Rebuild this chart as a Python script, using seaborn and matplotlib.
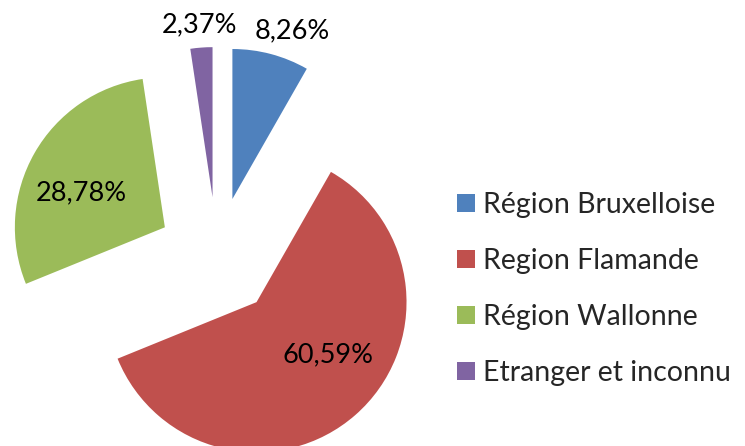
import numpy as np
import matplotlib
matplotlib.use("Agg")
import matplotlib.pyplot as plt
import seaborn as sns

# data
regions = ["Région Bruxelloise", "Region Flamande", "Région Wallonne", "Etranger et inconnu"]
shares = [8.26, 60.59, 28.78, 2.37]
colors = ["#4F81BD", "#C0504D", "#9BBB59", "#8064A2"]

sns.set_theme(style="white")
plt.rcParams["font.family"] = ["Lato", "DejaVu Sans"]

W, H = 745, 446
fig = plt.figure(figsize=(W / 100, H / 100), dpi=100)
ax = fig.add_axes([0, 0, 1, 1])

# pie geometry (pixels): centre and radius
cx, cy, r_px = 217, 257, 150
explode = 0.4

wedges, _ = ax.pie(shares, colors=colors, startangle=90, counterclock=False,
                   explode=[explode] * len(shares), radius=1,
                   wedgeprops=dict(linewidth=0))

ax.set_xlim(-cx / r_px, (W - cx) / r_px)
ax.set_ylim(-(H - cy) / r_px, cy / r_px)
ax.set_aspect("auto")
ax.axis("off")

# percentage labels, distance from pie centre per slice
label_dist = [1.59, 0.99, 1.0, 1.55]
angle_shift = [-3.5, 7.4, 4.3, 0]
for w, val, d, sh in zip(wedges, shares, label_dist, angle_shift):
    mid = np.deg2rad((w.theta1 + w.theta2) / 2 + sh)
    ax.text(d * np.cos(mid), d * np.sin(mid), f"{val:.2f}%".replace(".", ","),
            ha="center", va="center", fontsize=19.5, color="black")

fig.legend(wedges, regions, loc="center left",
           bbox_to_anchor=(457 / W, 157 / H), frameon=False, fontsize=20.5,
           handlelength=0.62, handleheight=0.62, handletextpad=0.3,
           labelspacing=1.05, borderpad=0, borderaxespad=0)

fig.savefig("out.png", dpi=100)
